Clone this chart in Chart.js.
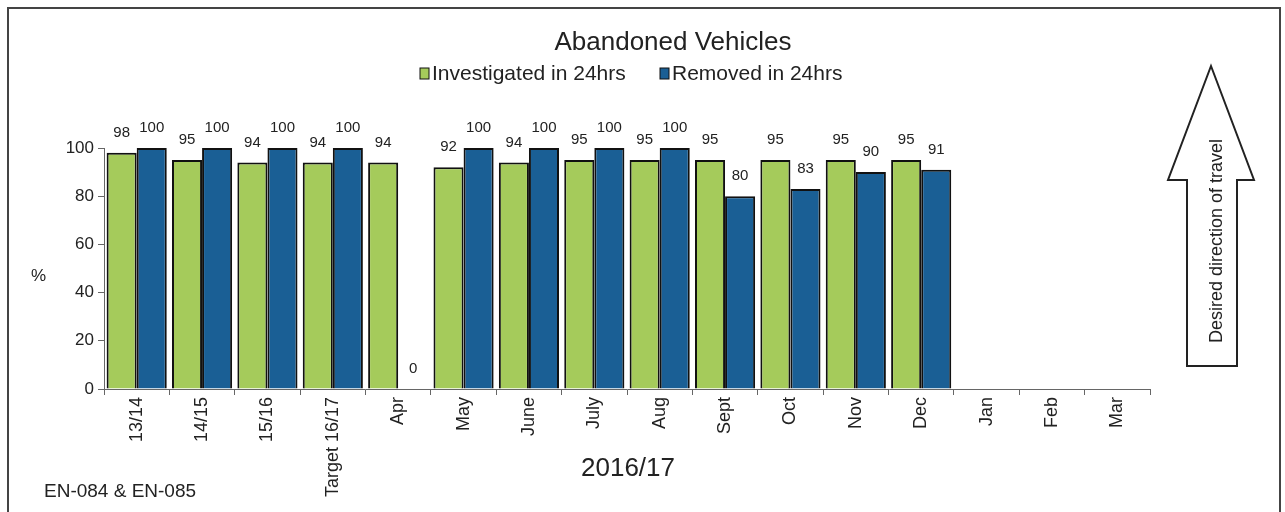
<!DOCTYPE html>
<html>
<head>
<meta charset="utf-8">
<script src="https://cdn.jsdelivr.net/npm/chart.js@4"></script>
<style>
  body { margin: 0; background: #fff; }
  #wrap { width: 1285px; height: 512px; }
</style>
</head>
<body>
<div id="wrap"><canvas id="chart" width="1285" height="512"></canvas></div>
<script>
const categories = ['13/14', '14/15', '15/16', 'Target 16/17', 'Apr', 'May', 'June', 'July', 'Aug', 'Sept', 'Oct', 'Nov', 'Dec', 'Jan', 'Feb', 'Mar'];
const investigated = [98, 95, 94, 94, 94, 92, 94, 95, 95, 95, 95, 95, 95, null, null, null];
const removed = [100, 100, 100, 100, 0, 100, 100, 100, 100, 80, 83, 90, 91, null, null, null];
const yTicks = [0, 20, 40, 60, 80, 100];

const FONT = '"Liberation Sans", Arial, sans-serif';
const GREEN = '#a5cb5b';
const BLUE = '#1a5f95';

// frame, title, legend, notes and the arrow
const extras = {
    id: 'extras',
    beforeDraw(chart) {
        const c = chart.ctx;
        c.save();
        c.fillStyle = '#fff';
        c.fillRect(0, 0, chart.width, chart.height);
        c.strokeStyle = '#444';
        c.lineWidth = 2;
        c.beginPath();
        c.moveTo(8, 520);
        c.lineTo(8, 8);
        c.lineTo(1280, 8);
        c.lineTo(1280, 520);
        c.stroke();
        c.restore();
    },
    afterDraw(chart) {
        const c = chart.ctx;
        c.save();
        c.fillStyle = '#222';
        c.textBaseline = 'middle';

        c.font = '26px ' + FONT;
        c.textAlign = 'center';
        c.fillText('Abandoned Vehicles', 673, 43);

        // legend
        c.font = '21px ' + FONT;
        c.textAlign = 'left';
        const items = [['Investigated in 24hrs', GREEN, 420], ['Removed in 24hrs', BLUE, 660]];
        items.forEach(([label, col, x]) => {
            c.fillStyle = col;
            c.fillRect(x, 68, 9, 11);
            c.strokeStyle = '#111';
            c.lineWidth = 1;
            c.strokeRect(x, 68, 9, 11);
            c.fillStyle = '#222';
            c.fillText(label, x + 12, 74);
        });

        c.font = '17px ' + FONT;
        c.fillText('%', 31, 276);

        c.font = '26px ' + FONT;
        c.textAlign = 'center';
        c.fillText('2016/17', 628, 469);

        c.font = '19px ' + FONT;
        c.textAlign = 'left';
        c.fillText('EN-084 & EN-085', 44, 492);

        // data labels
        c.font = '15px ' + FONT;
        c.textAlign = 'center';
        chart.data.datasets.forEach((ds, i) => {
            chart.getDatasetMeta(i).data.forEach((bar, j) => {
                const v = ds.data[j];
                if (v === null) return;
                c.fillText(String(v), bar.x, bar.y - 20);
            });
        });

        // desired direction arrow
        c.strokeStyle = '#222';
        c.lineWidth = 2;
        c.beginPath();
        c.moveTo(1211, 66);
        c.lineTo(1254, 180);
        c.lineTo(1237, 180);
        c.lineTo(1237, 366);
        c.lineTo(1187, 366);
        c.lineTo(1187, 180);
        c.lineTo(1168, 180);
        c.closePath();
        c.stroke();
        c.translate(1217, 241);
        c.rotate(-Math.PI / 2);
        c.font = '18px ' + FONT;
        c.fillText('Desired direction of travel', 0, 0);
        c.restore();
    }
};

new Chart(document.getElementById('chart'), {
    type: 'bar',
    data: {
        labels: categories,
        datasets: [
            { label: 'Investigated in 24hrs', data: investigated, backgroundColor: GREEN, borderColor: '#111', borderWidth: 2 },
            { label: 'Removed in 24hrs', data: removed, backgroundColor: BLUE, borderColor: '#111', borderWidth: 2 }
        ]
    },
    options: {
        responsive: false,
        animation: false,
        devicePixelRatio: 1,
        layout: { padding: { top: 148, right: 135, left: 0, bottom: 0 } },
        datasets: { bar: { categoryPercentage: 0.92, barPercentage: 1.0 } },
        plugins: {
            legend: { display: false },
            title: { display: false },
            tooltip: { enabled: false }
        },
        scales: {
            x: {
                afterFit(scale) { scale.height = 123; },
                grid: { display: true, offset: true, drawOnChartArea: false, tickLength: 6, color: '#666' },
                border: { color: '#666', width: 1 },
                ticks: { minRotation: 90, maxRotation: 90, autoSkip: false, color: '#222', font: { family: FONT, size: 18 }, padding: 2 }
            },
            y: {
                min: 0,
                max: 100,
                afterFit(scale) { scale.width = 104; },
                afterBuildTicks(scale) { scale.ticks = yTicks.map(v => ({ value: v })); },
                grid: { display: true, drawOnChartArea: false, tickLength: 6, color: '#666' },
                border: { color: '#666', width: 1 },
                ticks: { color: '#222', font: { family: FONT, size: 17 }, padding: 4 }
            }
        }
    },
    plugins: [extras]
});
</script>
</body>
</html>
